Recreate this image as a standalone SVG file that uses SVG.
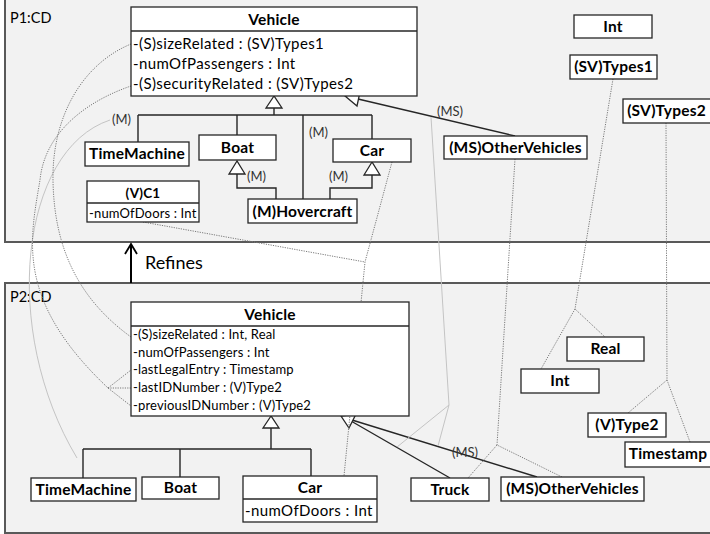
<svg xmlns="http://www.w3.org/2000/svg" width="710" height="534" viewBox="0 0 710 534">
<style>
.panel{fill:#f2f2f2;stroke:#595959;stroke-width:2}
.box{fill:#fff;stroke:#262626;stroke-width:1.3}
.b{font-family:Lato,"Liberation Sans",sans-serif;font-weight:bold;font-size:15.5px;letter-spacing:0.2px;text-anchor:middle;fill:#000}
.t{font-family:Lato,"Liberation Sans",sans-serif;font-size:15px;letter-spacing:0.4px;fill:#000}
.s{font-family:Lato,"Liberation Sans",sans-serif;font-size:13px;letter-spacing:0.15px;fill:#000}
.lbl{font-family:Lato,"Liberation Sans",sans-serif;font-size:13px;fill:#333}
.gen{fill:none;stroke:#262626;stroke-width:1.4}
.tri{fill:#fff;stroke:#262626;stroke-width:1.3}
.dot{fill:none;stroke:#7a7a7a;stroke-width:1;stroke-dasharray:1.2 1.2}
.lg{fill:none;stroke:#c4c4c4;stroke-width:1}
</style>
<rect width="710" height="534" fill="#fff"/>
<g id="panel-p1"><rect class="panel" x="5" y="-2" width="710" height="244"/><text class="t" x="10" y="23" style="font-size:14.5px;letter-spacing:0">P1:CD</text></g>
<g id="panel-p2"><rect class="panel" x="5" y="283" width="710" height="250"/><text class="t" x="10" y="302" style="font-size:14.5px;letter-spacing:0">P2:CD</text></g>
<g id="refines"><path d="M131,283 V244" stroke="#000" stroke-width="2" fill="none"/><path d="M125,254 L131,244 L137,254" stroke="#000" stroke-width="1.8" fill="none"/><text class="t" x="145" y="269" style="font-size:18px;letter-spacing:0">Refines</text></g>
<g id="connectors">
<path class="gen" d="M274,108 V115 M138,115 H372 M138,115 V142 M237,115 V135 M303,115 V199 M372,115 V139"/>
<polygon class="tri" points="274,96 266,108 282,108"/>
<path class="gen" d="M237,174 V188 H276 V199 M372,175 V188 H330 V199"/>
<polygon class="tri" points="237,161 229,174 245,174"/>
<polygon class="tri" points="372,162 364,175 380,175"/>
<path class="gen" d="M515,136 L358,99"/>
<polygon class="tri" points="345,96 357,106 360,92"/>
<text class="lbl" x="112" y="124">(M)</text>
<text class="lbl" x="309" y="137">(M)</text>
<text class="lbl" x="247" y="181">(M)</text>
<text class="lbl" x="329" y="181">(M)</text>
<text class="lbl" x="437" y="116">(MS)</text>
<path class="gen" d="M271,428 V449 M83,449 H311 M83,449 V478 M180,449 V477 M311,449 V476"/>
<polygon class="tri" points="271,416 263,428 279,428"/>
<path class="gen" d="M450,478 L351,421 M537,477 L352,420"/>
<polygon class="tri" points="341,416 356,414 349,428"/>
<text class="lbl" x="452" y="457">(MS)</text>
<path class="dot" d="M392,162 L365,262 L344,476 M143,222 L365,262"/>
<path class="dot" d="M613,79 L575,309 L605,337 M575,309 L541,369"/>
<path class="dot" d="M666,123 L667,380 L628,413 M667,380 L690,442"/>
<path class="dot" d="M515,159 L497,445 L562,477 M497,445 L468,478"/>
<path class="lg" d="M431,117 L449,405 L397,447 M449,405 L438,446"/>
<path class="lg" d="M110,120 C20,150 0,330 77,458"/>
<path class="dot" d="M131,44 C80,65 52,120 53,180 C54,250 80,300 131,337"/>
<path class="dot" d="M131,86 C90,100 45,130 40,180 C30,240 15,300 108,388"/>
<path class="dot" d="M108,388 L131,370 M108,388 L131,388 M108,388 L131,406"/>
</g>
<g id="p1-vehicle"><rect class="box" x="131" y="7" width="286" height="89"/><line x1="131" y1="31" x2="417" y2="31" stroke="#262626" stroke-width="1.3"/><text class="b" x="274" y="25">Vehicle</text><text class="t" x="133" y="49">-(S)sizeRelated : (SV)Types1</text><text class="t" x="133" y="69">-numOfPassengers : Int</text><text class="t" x="133" y="89">-(S)securityRelated : (SV)Types2</text></g>
<g id="p1-timemachine"><rect class="box" x="85" y="142" width="104" height="24"/><text class="b" x="137" y="159">TimeMachine</text></g>
<g id="p1-boat"><rect class="box" x="199" y="135" width="77" height="25"/><text class="b" x="237.5" y="153">Boat</text></g>
<g id="p1-car"><rect class="box" x="333" y="139" width="78" height="23"/><text class="b" x="372" y="156">Car</text></g>
<g id="p1-hovercraft"><rect class="box" x="248" y="199" width="109" height="24"/><text class="b" x="302.5" y="217">(M)Hovercraft</text></g>
<g id="p1-c1"><rect class="box" x="87" y="181" width="112" height="41"/><line x1="87" y1="203" x2="199" y2="203" stroke="#262626" stroke-width="1.3"/><text class="b" x="143" y="198" style="font-size:13.5px">(V)C1</text><text class="s" x="89" y="218">-numOfDoors : Int</text></g>
<g id="p1-othervehicles"><rect class="box" x="444" y="136" width="143" height="23"/><text class="b" x="515.5" y="153">(MS)OtherVehicles</text></g>
<g id="p1-int"><rect class="box" x="574" y="15" width="78" height="23"/><text class="b" x="613" y="32">Int</text></g>
<g id="p1-types1"><rect class="box" x="570" y="55" width="87" height="24"/><text class="b" x="613.5" y="72">(SV)Types1</text></g>
<g id="p1-types2"><rect class="box" x="623" y="99" width="90" height="24"/><text class="b" x="666.5" y="116">(SV)Types2</text></g>
<g id="p2-vehicle"><rect class="box" x="131" y="302" width="278" height="114"/><line x1="131" y1="326" x2="409" y2="326" stroke="#262626" stroke-width="1.3"/><text class="b" x="270" y="320">Vehicle</text><text class="s" x="133" y="339">-(S)sizeRelated : Int, Real</text><text class="s" x="133" y="357">-numOfPassengers : Int</text><text class="s" x="133" y="374">-lastLegalEntry : Timestamp</text><text class="s" x="133" y="392">-lastIDNumber : (V)Type2</text><text class="s" x="133" y="410">-previousIDNumber : (V)Type2</text></g>
<g id="p2-timemachine"><rect class="box" x="31" y="478" width="105" height="23"/><text class="b" x="83.5" y="495">TimeMachine</text></g>
<g id="p2-boat"><rect class="box" x="142" y="477" width="77" height="22"/><text class="b" x="180.5" y="493">Boat</text></g>
<g id="p2-car"><rect class="box" x="243" y="476" width="134" height="46"/><line x1="243" y1="499" x2="377" y2="499" stroke="#262626" stroke-width="1.3"/><text class="b" x="310" y="493">Car</text><text class="t" x="245" y="516">-numOfDoors : Int</text></g>
<g id="p2-truck"><rect class="box" x="411" y="478" width="78" height="23"/><text class="b" x="450" y="495">Truck</text></g>
<g id="p2-othervehicles"><rect class="box" x="501" y="477" width="143" height="24"/><text class="b" x="572.5" y="494">(MS)OtherVehicles</text></g>
<g id="p2-real"><rect class="box" x="567" y="337" width="77" height="24"/><text class="b" x="605.5" y="354">Real</text></g>
<g id="p2-int"><rect class="box" x="521" y="369" width="78" height="24"/><text class="b" x="560" y="386">Int</text></g>
<g id="p2-type2"><rect class="box" x="588" y="413" width="78" height="24"/><text class="b" x="627" y="430">(V)Type2</text></g>
<g id="p2-timestamp"><rect class="box" x="625" y="442" width="90" height="25"/><text class="b" x="668" y="459">Timestamp</text></g>
</svg>
